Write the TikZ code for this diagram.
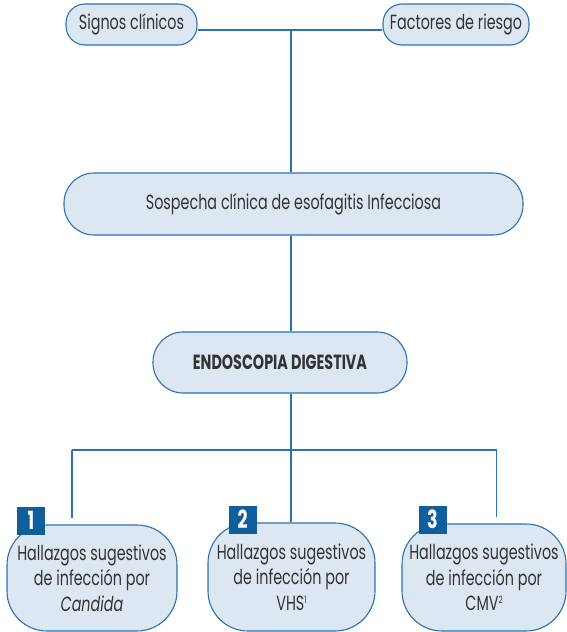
\documentclass[tikz,border=0pt]{standalone}
\usepackage{fontspec}
\setmainfont[FakeStretch=0.70]{Poppins}
\usetikzlibrary{backgrounds}
\definecolor{edgeblue}{HTML}{2A72B0}
\definecolor{boxfill}{HTML}{DDE7F1}
\definecolor{badgeblue}{HTML}{115E9C}
\definecolor{txt}{HTML}{333333}
\newcommand{\smallsup}[1]{\raisebox{7pt}{\fontsize{10}{10}\selectfont #1}}
\tikzset{
  pill/.style={draw=edgeblue, line width=1.1pt, fill=boxfill, text=txt, align=center, inner sep=0pt, font=\fontsize{20.5}{24}\selectfont},
  conn/.style={draw=edgeblue, line width=1.1pt},
  badge/.style={fill=badgeblue, text=white, minimum width=28pt, minimum height=28pt, inner sep=0pt, font=\fontsize{25}{25}\selectfont\bfseries},
  finding/.style={pill, rounded corners=40pt, font=\fontsize{20.5}{25.5}\selectfont}
}
\begin{document}
\begin{tikzpicture}[x=1pt,y=-1pt]
\useasboundingbox (0,0) rectangle (567,632);
\node[pill, minimum width=131pt, minimum height=41pt, rounded corners=19pt] (signos) at (131.5,24.5) {Signos clínicos};
\node[pill, minimum width=146pt, minimum height=41pt, rounded corners=19pt] (factores) at (456,24.5) {Factores de riesgo};
\node[pill, minimum width=459pt, minimum height=62pt, rounded corners=30pt] (sospecha) at (293.5,204) {Sospecha clínica de esofagitis Infecciosa};
\node[pill, minimum width=254pt, minimum height=61pt, rounded corners=30pt, font=\fontsize{20.5}{24}\selectfont\bfseries] (endo) at (280,362.5) {ENDOSCOPIA DIGESTIVA};
\node[finding, minimum width=170pt, minimum height=106pt] (f1) at (92,578) {Hallazgos sugestivos\\de infección por\\\itshape Candida};
\node[finding, minimum width=167pt, minimum height=108pt] (f2) at (291.5,577) {Hallazgos sugestivos\\de infección por\\VHS\smallsup{1}};
\node[finding, minimum width=164pt, minimum height=107pt] (f3) at (484,577.5) {Hallazgos sugestivos\\de infección por\\CMV\smallsup{2}};
\node[badge] (b1) at (31,520.5) {1};
\node[badge] (b2) at (242.5,519.5) {2};
\node[badge] (b3) at (432.5,519.5) {3};
\coordinate (j1) at (291,30);
\coordinate (j2) at (291,450);
\coordinate (l1) at (72,450);
\coordinate (l3) at (496.5,450);
\begin{scope}[on background layer]
\draw[conn] (signos.east |- j1) -- (factores.west |- j1);
\draw[conn] (j1) -- (sospecha.north -| j1);
\draw[conn] (sospecha.south -| j1) -- (endo.north -| j1);
\draw[conn] (endo.south -| j1) -- (j2);
\draw[conn] (l1) -- (l3);
\draw[conn, shorten >=6pt] (l1) -- (f1.north -| l1);
\draw[conn] (j2) -- (f2.north -| j2);
\draw[conn, shorten >=6pt] (l3) -- (f3.north -| l3);
\end{scope}
\end{tikzpicture}
\end{document}
